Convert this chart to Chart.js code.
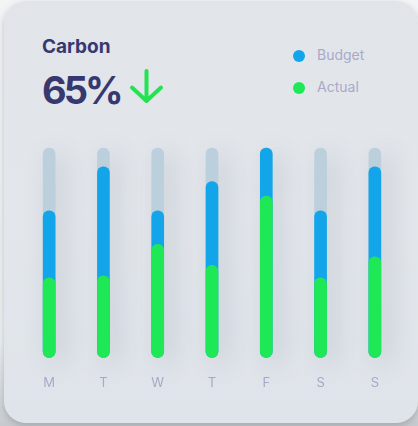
<!DOCTYPE html>
<html>
<head>
<meta charset="utf-8">
<script src="https://cdn.jsdelivr.net/npm/chart.js@4"></script>
<style>
  html, body { margin: 0; padding: 0; }
  body {
    width: 418px; height: 426px; overflow: hidden; position: relative;
    background: linear-gradient(180deg, #f3f4f6 0%, #eef0f2 80%, #c7cbcf 100%);
    font-family: "Inter", "Open Sans", sans-serif;
  }
  .card {
    position: absolute; left: 4px; top: 1px; width: 414px; height: 422px;
    border-radius: 22px;
    background: linear-gradient(180deg, #e1e5ea 0%, #e3e7ec 50%, #dfe4ea 100%);
    box-shadow: 0 3px 6px rgba(120, 128, 138, 0.45);
  }
  .title {
    position: absolute; left: 42px; top: 35px;
    font-size: 19px; font-weight: 700; color: #37386f;
  }
  .big {
    position: absolute; left: 42px; top: 67px;
    font-size: 38px; font-weight: 700; color: #37386f; letter-spacing: -3px;
  }
  .arrow { position: absolute; left: 128px; top: 68px; }
  .legend { position: absolute; left: 293px; top: 46px; }
  .legend div {
    height: 32px; display: flex; align-items: flex-start;
    font-size: 14px; color: #a9a9c8;
  }
  .legend span.dot {
    width: 12px; height: 12px; border-radius: 50%; margin-right: 12px; margin-top: 4px;
  }
  #wrap { position: absolute; left: 0; top: 130px; width: 418px; height: 290px; }
</style>
</head>
<body>
<div class="card"></div>
<div class="title">Carbon</div>
<div class="big">65%</div>
<svg class="arrow" width="38" height="38" viewBox="0 0 38 38">
  <path d="M18.5 3 L18.5 33 M4 19.5 L18.5 33 L33 19.5" fill="none" stroke="#22e450" stroke-width="4" stroke-linecap="round" stroke-linejoin="round"/>
</svg>
<div class="legend" id="legend"></div>
<div id="wrap"><canvas id="chart"></canvas></div>
<script>
const days = ["M", "T", "W", "T", "F", "S", "S"];
const budget = [70, 91, 70, 84, 100, 70, 91];
const actual = [38, 39, 54, 44, 77, 38, 48];
const track = [100, 100, 100, 100, 100, 100, 100];

const budgetColor = "#12a5e9";
const actualColor = "#1fe856";
const trackColor = "#bccfdc";

// legend
const legend = document.getElementById("legend");
[["Budget", budgetColor], ["Actual", actualColor]].forEach(([name, color]) => {
  const row = document.createElement("div");
  row.innerHTML = `<span class="dot" style="background:${color}"></span>${name}`;
  legend.appendChild(row);
});

// soft shadow behind the grey tracks
const softShadow = {
  id: "softShadow",
  beforeDatasetDraw(chart, args) {
    if (args.index !== 2) return;
    const ctx = chart.ctx;
    ctx.save();
    ctx.shadowColor = "rgba(90, 100, 120, 0.24)";
    ctx.shadowBlur = 26;
    ctx.shadowOffsetX = 8;
    ctx.shadowOffsetY = 6;
  },
  afterDatasetDraw(chart, args) {
    if (args.index !== 2) return;
    chart.ctx.restore();
  }
};

const common = {
  barThickness: 12,
  borderRadius: 6,
  borderSkipped: false,
  grouped: false,
  clip: false
};

new Chart(document.getElementById("chart"), {
  type: "bar",
  data: {
    labels: days,
    datasets: [
      { label: "Actual", data: actual, backgroundColor: actualColor, order: 1, ...common },
      { label: "Budget", data: budget, backgroundColor: budgetColor, order: 2, ...common },
      { label: "Track", data: track, backgroundColor: trackColor, order: 3, ...common }
    ]
  },
  options: {
    responsive: true,
    maintainAspectRatio: false,
    animation: false,
    layout: { padding: { left: 22, right: 16, top: 18, bottom: 11 } },
    plugins: { legend: { display: false }, tooltip: { enabled: false } },
    scales: {
      x: {
        grid: { display: false, drawTicks: false },
        border: { display: false },
        ticks: { padding: 18, color: "#a9a9c8", font: { family: "Inter", size: 13 } }
      },
      y: {
        display: false,
        min: 0,
        max: 100
      }
    }
  },
  plugins: [softShadow]
});
</script>
</body>
</html>
